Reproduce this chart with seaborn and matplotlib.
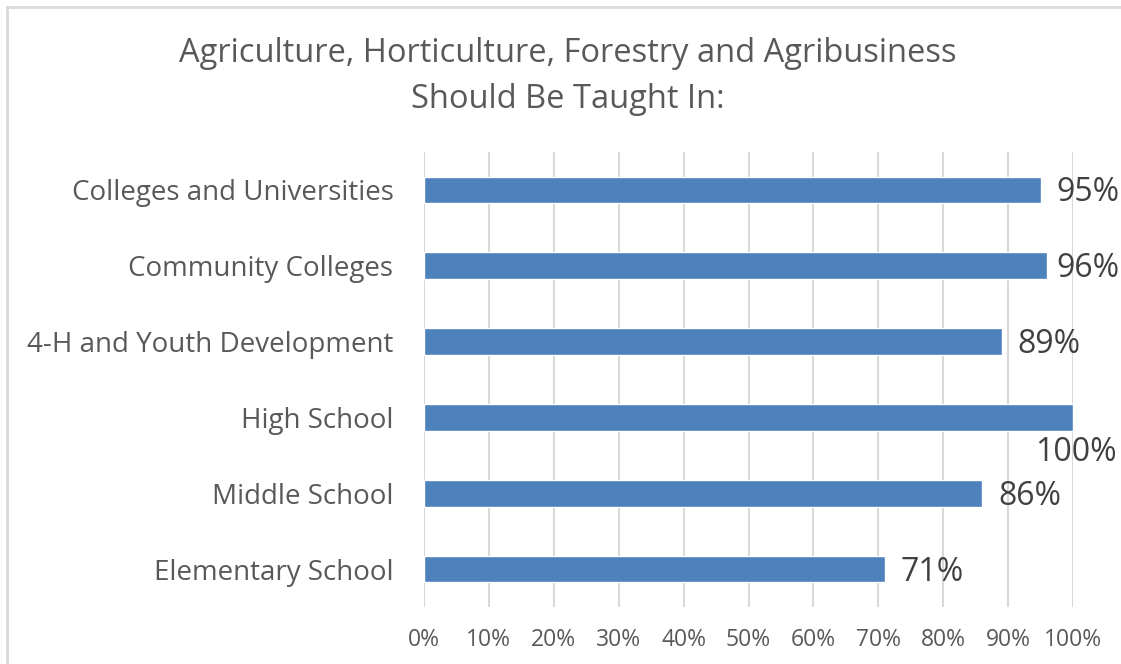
import matplotlib
matplotlib.use("Agg")
import matplotlib.pyplot as plt
from matplotlib.lines import Line2D
import seaborn as sns
import pandas as pd

# Survey results: where these subjects should be taught
categories = [
    "Colleges and Universities",
    "Community Colleges",
    "4-H and Youth Development",
    "High School",
    "Middle School",
    "Elementary School",
]
percent = [95, 96, 89, 100, 86, 71]
tick_values = [0, 10, 20, 30, 40, 50, 60, 70, 80, 90, 100]
tick_labels = [f"{v}%" for v in tick_values]
title_lines = ["Agriculture, Horticulture, Forestry and Agribusiness",
               "Should Be Taught In:"]

sns.set_theme(style="white")
plt.rcParams["font.family"] = ["Open Sans", "DejaVu Sans"]

W, H = 1121, 664
fig = plt.figure(figsize=(W / 100, H / 100), dpi=100)
ax = fig.add_axes([424 / W, 1 - 607 / H, (1073 - 424) / W, (607 - 152) / H])

df = pd.DataFrame({"category": categories, "percent": percent})
sns.barplot(data=df, x="percent", y="category", orient="h",
            color="#4F81BD", saturation=1, width=0.35, ax=ax, zorder=3)

ax.set_xlim(0, 100)
ax.set_xticks(tick_values)
ax.set_xticklabels(tick_labels, color="#595959", fontsize=16.5)
ax.tick_params(axis="x", length=0, pad=15)
ax.tick_params(axis="y", length=0, pad=22, labelsize=20, labelcolor="#595959")
ax.set_xlabel("")
ax.set_ylabel("")
ax.grid(axis="x", color="#D9D9D9", linewidth=1.5, zorder=0)
ax.grid(axis="y", visible=False)
for s in ax.spines.values():
    s.set_visible(False)

# Value labels at the end of each bar; the full bar's label sits beneath it.
# Labels that would run past the figure edge are nudged back inside.
renderer = fig.canvas.get_renderer()
for i, v in enumerate(percent):
    if v >= 100:
        ax.annotate(f"{v}%", xy=(v, i), xytext=(3, -35), textcoords="offset pixels",
                    ha="center", va="center", fontsize=23, color="#404040")
    else:
        t = ax.annotate(f"{v}%", xy=(v, i), xytext=(16, -3), textcoords="offset pixels",
                        ha="left", va="center", fontsize=23, color="#404040")
        bb = t.get_window_extent(renderer)
        overflow = bb.x1 - (W - 1)
        if overflow > 0:
            t.set_position((16 - overflow, -3))

fig.text(568 / W, 1 - 53 / H, title_lines[0], ha="center", va="center",
         fontsize=23.5, color="#595959")
fig.text(568 / W, 1 - 100 / H, title_lines[1], ha="center", va="center",
         fontsize=23.5, color="#595959")

# Chart-area frame
fig.add_artist(Line2D([7 / W, 7 / W], [0, 1 - 7 / H], transform=fig.transFigure,
                      color="#D9D9D9", linewidth=2))
fig.add_artist(Line2D([7 / W, 1], [1 - 7 / H, 1 - 7 / H], transform=fig.transFigure,
                      color="#D9D9D9", linewidth=2))

fig.savefig("out.png", dpi=100, facecolor="white")
